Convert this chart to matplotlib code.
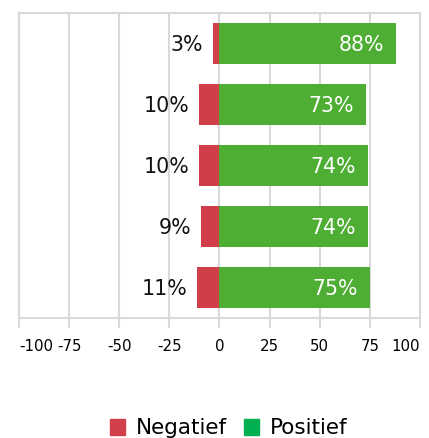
import numpy as np
import matplotlib.pyplot as plt
from matplotlib.patches import Patch

# data, top row first
negatief = [3, 10, 10, 9, 11]
positief = [88, 73, 74, 74, 75]
ticks = [-100, -75, -50, -25, 0, 25, 50, 75, 100]

red = "#D03E4A"
green = "#4EAD33"
grid = "#D9D9D9"

plt.rcParams['font.family'] = ['DejaVu Sans']

fig = plt.figure(figsize=(4.29, 4.38), dpi=100)
ax = fig.add_axes([19 / 429, 120 / 438, 401 / 429, 305 / 438])

y = np.arange(len(positief))
neg = -np.array(negatief)
ax.barh(y, neg, height=0.67, color=red, zorder=3)
ax.barh(y, positief, height=0.67, color=green, zorder=3)

for yi, n, p in zip(y, negatief, positief):
    ax.text(-n - 5, yi + 0.02, f"{n}%", ha='right', va='center', fontsize=14.8, color='#111111')
    ax.text(p - 6, yi + 0.02, f"{p}%", ha='right', va='center', fontsize=14.8, color='white')

ax.set_xlim(-100, 100)
ax.set_ylim(len(positief) - 0.5, -0.5)
ax.set_yticks([])
ax.set_xticks(ticks)
labels = ax.set_xticklabels([str(t) for t in ticks], fontsize=10.8)
labels[0].set_ha('left')
labels[-1].set_ha('right')
ax.tick_params(axis='x', length=7, width=1.5, color=grid, pad=8)
ax.grid(axis='x', color=grid, linewidth=1.5, zorder=0)
for s in ax.spines.values():
    s.set_color(grid)
    s.set_linewidth(1.5)

handles = [Patch(color="#D13F4A"), Patch(color="#00AF50")]
fig.legend(handles, ["Negatief", "Positief"], loc='center',
           bbox_to_anchor=(229 / 429, 1 - 428.5 / 438), ncol=2, frameon=False,
           fontsize=15.5, handlelength=0.7, handleheight=0.7,
           handletextpad=0.5, columnspacing=0.8, borderpad=0)

fig.savefig("out.png", dpi=100)
